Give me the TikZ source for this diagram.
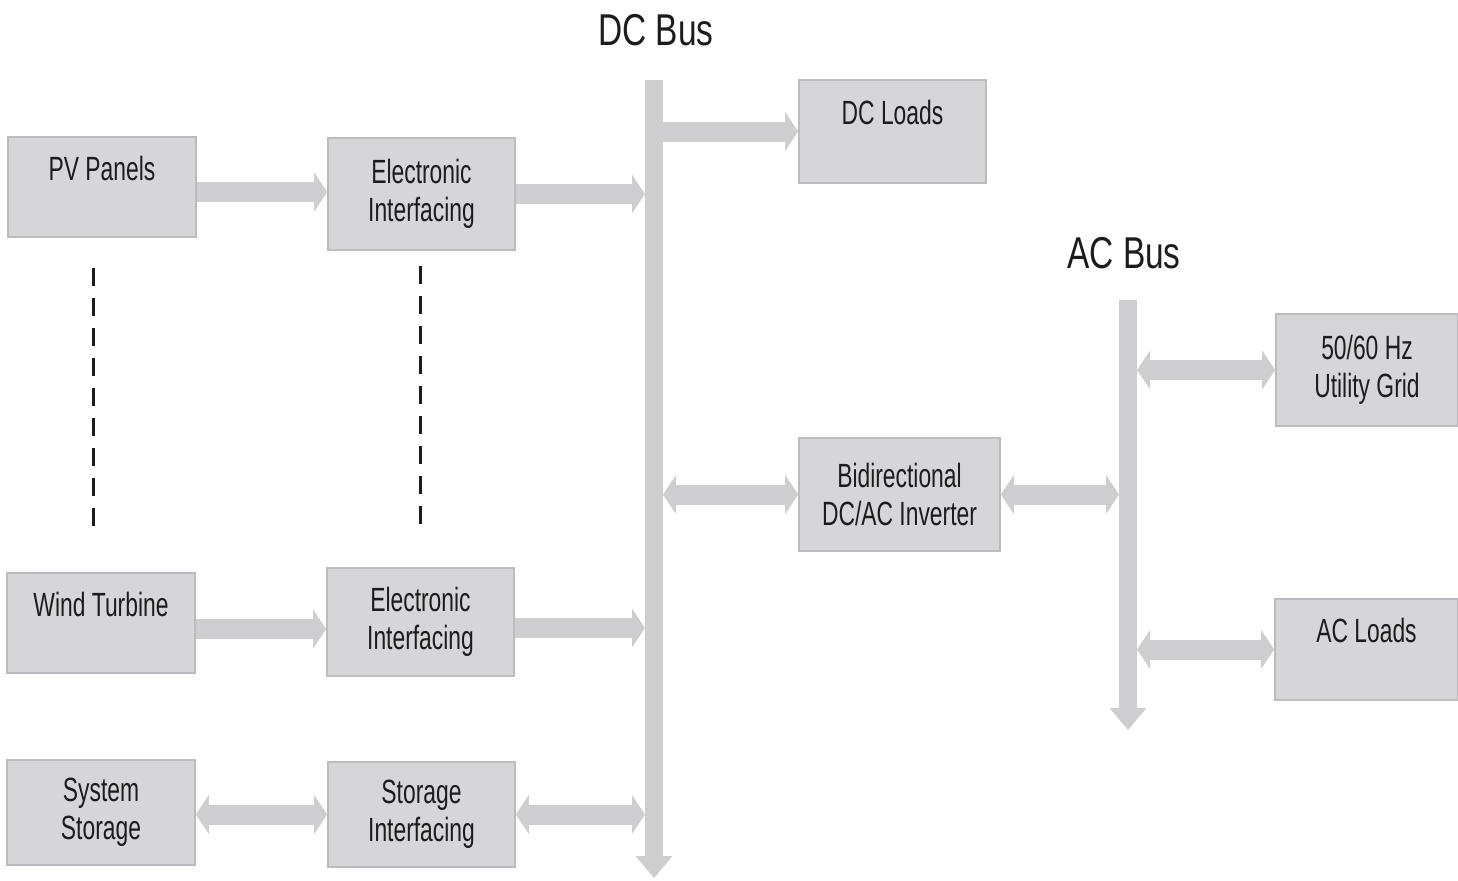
\documentclass[tikz,border=0pt]{standalone}
\usepackage{fontspec}
\setmainfont{Liberation Sans}[FakeStretch=0.68]
\newfontfamily\busfont{Liberation Sans}[FakeStretch=0.75]
\usetikzlibrary{arrows.meta}

\definecolor{boxfill}{RGB}{214,214,217}
\definecolor{boxedge}{RGB}{188,188,192}
\definecolor{arrowfill}{RGB}{206,206,209}
\definecolor{inkgray}{RGB}{28,28,28}

\tikzset{every picture/.style={line width=0.75pt}}
\tikzset{
  box/.style={draw=boxedge, fill=boxfill, line width=0.8pt, align=center, inner sep=0pt,
    text=inkgray, font=\fontsize{16.8}{19}\selectfont},
  buslbl/.style={inner sep=0pt, text=inkgray, font=\busfont\fontsize{22.3}{26}\selectfont},
  fat/.style={draw=arrowfill, line width=10pt, -{Triangle[length=6.5pt,width=19.5pt,line width=0pt]}},
  dbl/.style={fat, {Triangle[length=6.5pt,width=19.5pt,line width=0pt]}-{Triangle[length=6.5pt,width=19.5pt,line width=0pt]}},
  bus/.style={draw=arrowfill, line width=9pt, -{Triangle[length=11pt,width=18.5pt,line width=0pt]}},
  dashline/.style={draw=inkgray, line width=1.5pt, dash pattern={on 9pt off 6pt}}
}

\begin{document}
\begin{tikzpicture}[x=0.5pt,y=0.5pt,yscale=-1]
\useasboundingbox (0,0) rectangle (1458,880);

%Bus coordinates
\coordinate (dctop) at (654,80);
\coordinate (dcbot) at (654,878);
\coordinate (dcW) at (645,0);
\coordinate (dcE) at (663,0);
\coordinate (actop) at (1128,300);
\coordinate (acbot) at (1128,730);
\coordinate (acW) at (1119,0);
\coordinate (acE) at (1137,0);

%Buses
\draw[bus] (dctop) -- (dcbot);
\draw[bus] (actop) -- (acbot);

% Text Node
\node[buslbl] (dclabel) at (656,30) {DC Bus};
% Text Node
\node[buslbl] (aclabel) at (1124,253) {AC Bus};

%Sources
\node[box, minimum width=94pt, minimum height=50pt] (pv) at (102,187) {PV Panels\\ \mbox{}};
\node[box, minimum width=93.5pt, minimum height=56pt] (ei1) at (421.5,194) {Electronic\\Interfacing};
\node[box, minimum width=94pt, minimum height=50pt] (wt) at (101,623) {Wind Turbine\\ \mbox{}};
\node[box, minimum width=93.5pt, minimum height=54pt] (ei2) at (420.5,622) {Electronic\\Interfacing};
\node[box, minimum width=94pt, minimum height=52.5pt] (ss) at (101,812.5) {System\\Storage};
\node[box, minimum width=93.5pt, minimum height=52.5pt] (si) at (421.5,814.5) {Storage\\Interfacing};

%Loads and grid
\node[box, minimum width=93.5pt, minimum height=51.5pt] (dcl) at (892.5,131.5) {DC Loads\\ \mbox{}};
\node[box, minimum width=100.5pt, minimum height=56.5pt] (inv) at (899.5,494.5) {Bidirectional\\DC/AC Inverter};
\node[box, minimum width=91pt, minimum height=56pt] (grid) at (1367,370) {50/60 Hz\\Utility Grid};
\node[box, minimum width=91.5pt, minimum height=50.5pt] (acl) at (1366.5,649.5) {AC Loads\\ \mbox{}};

%Dashed Lines
\draw[dashline] (93,268) -- (93,535);
\draw[dashline] (420,266) -- (420,533);

%Block arrows
\draw[fat] ([yshift=2.5pt]pv.east) -- ([yshift=2.5pt]pv.east -| ei1.west);
\draw[fat] (ei1.east) -- (ei1.east -| dcW);
\draw[fat] (dcE |- dcl.west) -- (dcl.west);
\draw[fat] ([yshift=3pt]wt.east) -- ([yshift=3pt]wt.east -| ei2.west);
\draw[fat] ([yshift=3pt]ei2.east) -- ([yshift=3pt]ei2.east -| dcW);
\draw[dbl] (ss.east |- si.west) -- (si.west);
\draw[dbl] (si.east) -- (si.east -| dcW);
\draw[dbl] (dcE |- inv.west) -- (inv.west);
\draw[dbl] (inv.east) -- (inv.east -| acW);
\draw[dbl] (acE |- grid.west) -- (grid.west);
\draw[dbl] (acE |- acl.west) -- (acl.west);

\end{tikzpicture}
\end{document}
